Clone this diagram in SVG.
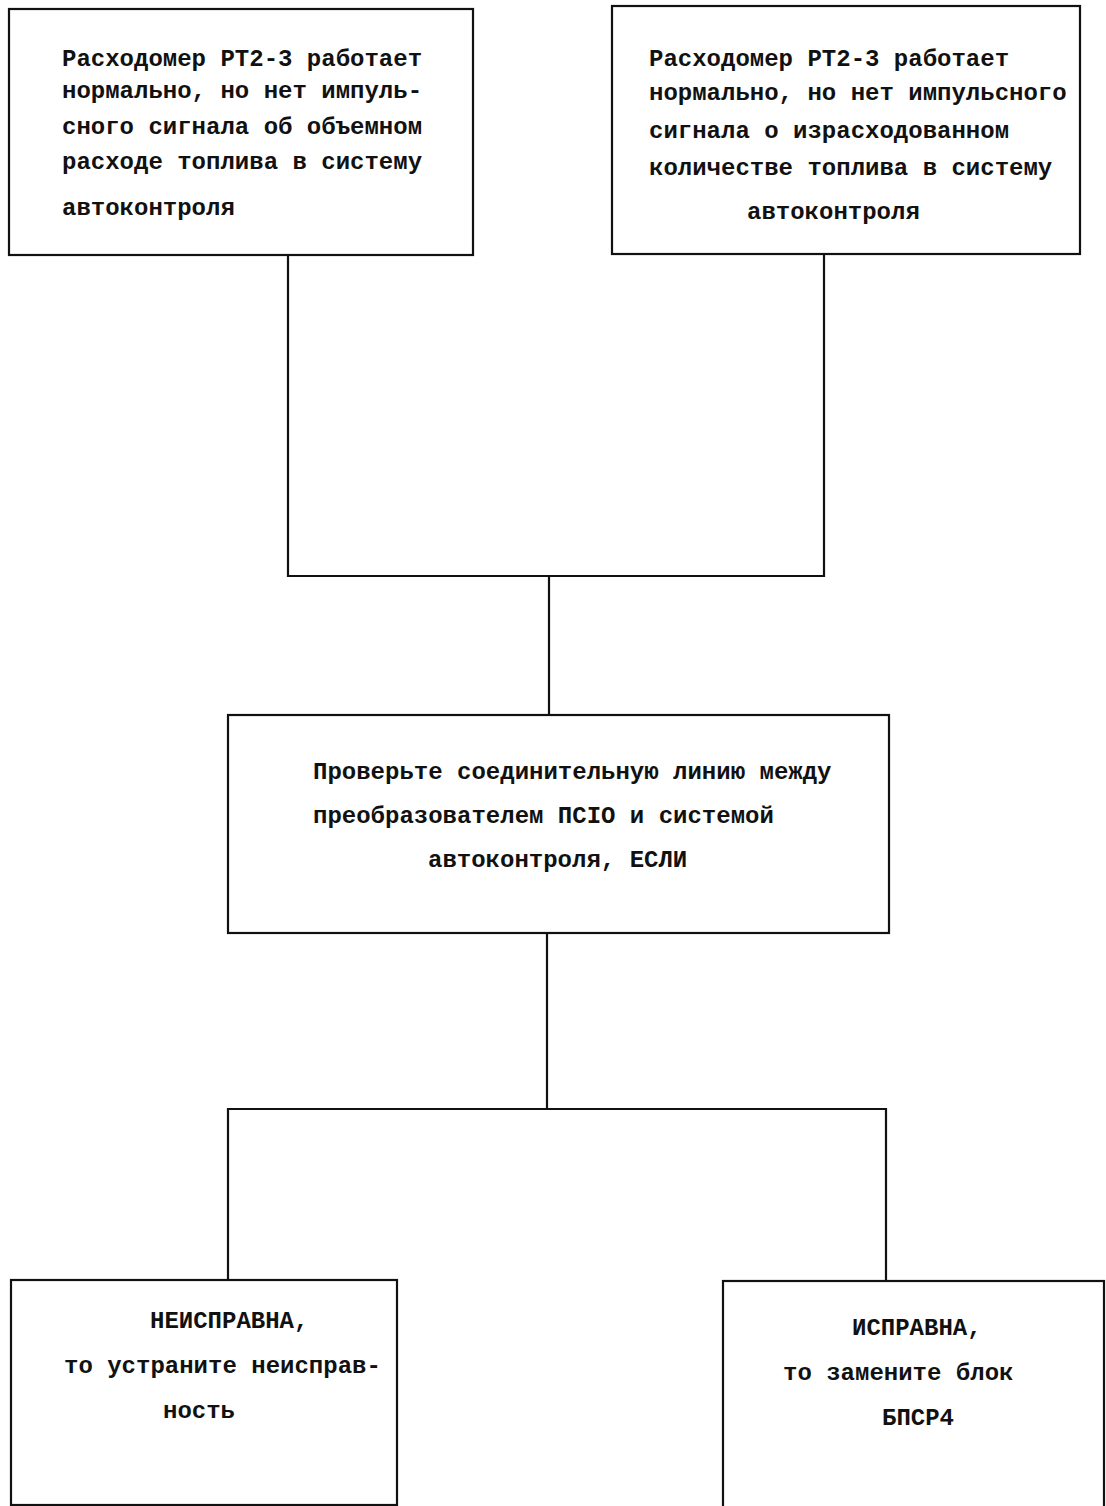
<svg xmlns="http://www.w3.org/2000/svg" width="1106" height="1506" viewBox="0 0 1106 1506">
  <style>
    .box { fill: none; stroke: #111; stroke-width: 2.2; }
    .wire { fill: none; stroke: #111; stroke-width: 2.2; }
    .t { font-family: "Liberation Mono", "DejaVu Sans Mono", monospace; font-weight: bold; font-size: 24px; fill: #111; }
  </style>
  <rect width="1106" height="1506" fill="#fff"/>

  <g id="connectors">
    <!-- two upper boxes join and feed the check box -->
    <path class="wire" d="M288 255 V576 H824 V254"/>
    <path class="wire" d="M549 576 V715"/>
    <!-- check box splits into the two outcomes -->
    <path class="wire" d="M547 933 V1109"/>
    <path class="wire" d="M228 1280 V1109 H886 V1281"/>
  </g>

  <g id="node-volume-signal">
    <rect class="box" x="9" y="9" width="464" height="246"/>
    <text class="t" x="62" y="66">Расходомер РТ2-3 работает</text>
    <text class="t" x="62" y="98">нормально, но нет импуль-</text>
    <text class="t" x="62" y="134">сного сигнала об объемном</text>
    <text class="t" x="62" y="169">расходе топлива в систему</text>
    <text class="t" x="62" y="215">автоконтроля</text>
  </g>

  <g id="node-quantity-signal">
    <rect class="box" x="612" y="6" width="468" height="248"/>
    <text class="t" x="649" y="66">Расходомер РТ2-3 работает</text>
    <text class="t" x="649" y="100">нормально, но нет импульсного</text>
    <text class="t" x="649" y="138">сигнала о израсходованном</text>
    <text class="t" x="649" y="175">количестве топлива в систему</text>
    <text class="t" x="747" y="219">автоконтроля</text>
  </g>

  <g id="node-check-line">
    <rect class="box" x="228" y="715" width="661" height="218"/>
    <text class="t" x="313" y="779">Проверьте соединительную линию между</text>
    <text class="t" x="313" y="823">преобразователем ПСIO и системой</text>
    <text class="t" x="428" y="867">автоконтроля, ЕСЛИ</text>
  </g>

  <g id="node-faulty">
    <rect class="box" x="11" y="1280" width="386" height="225"/>
    <text class="t" x="150" y="1328">НЕИСПРАВНА,</text>
    <text class="t" x="64" y="1373">то устраните неисправ-</text>
    <text class="t" x="163" y="1418">ность</text>
  </g>

  <g id="node-ok">
    <rect class="box" x="723" y="1281" width="381" height="240"/>
    <text class="t" x="852" y="1335">ИСПРАВНА,</text>
    <text class="t" x="783" y="1380">то замените блок</text>
    <text class="t" x="882" y="1425">БПСР4</text>
  </g>
</svg>
